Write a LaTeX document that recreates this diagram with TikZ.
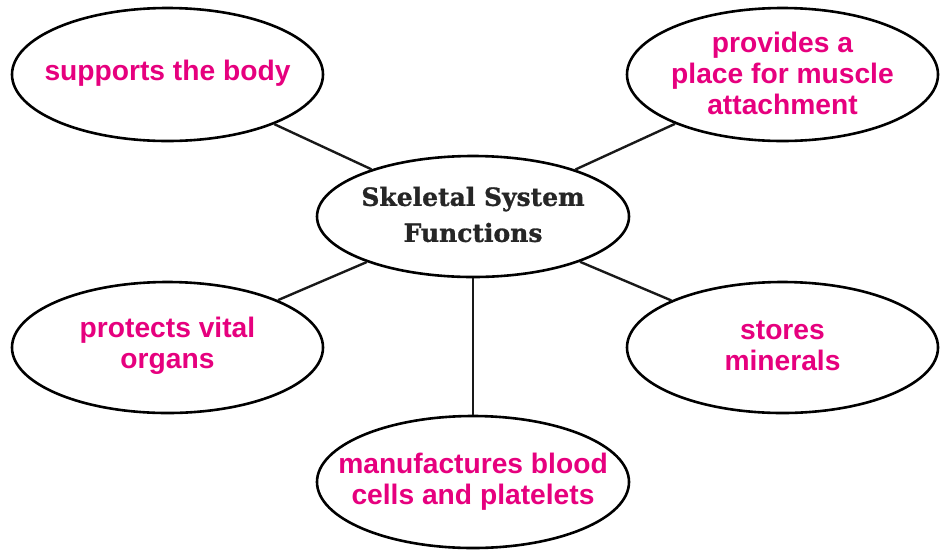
\documentclass[tikz,border=0pt]{standalone}
\usepackage{fontspec}
\setmainfont{Liberation Sans}
\newfontfamily\slabfont[BoldFeatures={FakeBold=1.2}]{DejaVu Serif}
\usetikzlibrary{shapes.geometric}
\definecolor{pinktext}{RGB}{230,0,126}
\tikzset{
  bubble/.style={ellipse, draw=black, line width=2.6pt, minimum width=311pt, minimum height=133pt, inner sep=0pt},
  bubbletext/.style={align=center, font=\fontsize{28.2}{31}\selectfont\bfseries, text=pinktext},
  hubtext/.style={align=center, font=\slabfont\fontsize{25}{36}\selectfont\bfseries, text=black!85},
  link/.style={line width=2.4pt, black!90}
}
\begin{document}
\begin{tikzpicture}[x=1pt,y=-1pt]
\useasboundingbox (0,0) rectangle (949,550);
\node[bubble, minimum width=312pt, minimum height=121pt, label={[hubtext, yshift=2pt]center:Skeletal System\\Functions}] (c) at (473,216.5) {};
\node[bubble, label={[bubbletext, yshift=1pt]center:supports the body}] (sup) at (167.5,74.5) {};
\node[bubble, label={[bubbletext, yshift=1pt]center:provides a\\place for muscle\\attachment}] (mus) at (782.5,74.5) {};
\node[bubble, minimum height=131pt, label={[bubbletext, yshift=2pt]center:protects vital\\organs}] (pro) at (167.5,347.5) {};
\node[bubble, minimum height=131pt, label={[bubbletext, yshift=2pt]center:stores\\minerals}] (min) at (782.5,347.5) {};
\node[bubble, minimum width=312pt, minimum height=132pt, label={[bubbletext]center:manufactures blood\\cells and platelets}] (bld) at (473,482) {};
\draw[link] (c) -- (sup);
\draw[link] (c) -- (mus);
\draw[link] (c) -- (pro);
\draw[link] (c) -- (min);
\draw[link] (c) -- (bld);
\end{tikzpicture}
\end{document}
